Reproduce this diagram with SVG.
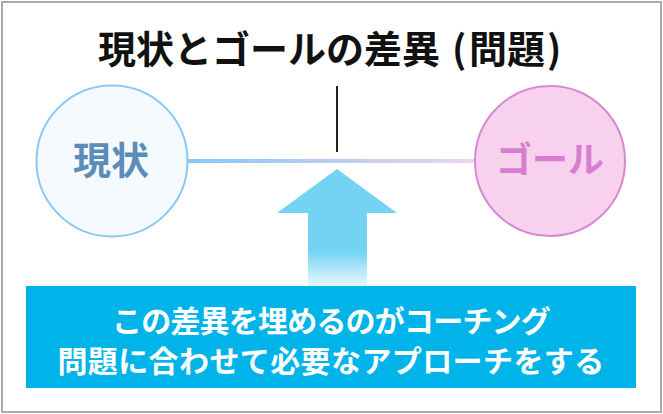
<svg xmlns="http://www.w3.org/2000/svg" width="663" height="414" viewBox="0 0 663 414">
<style>
.jp{font-family:"Noto Sans CJK JP","Noto Sans",sans-serif;font-weight:700}
</style>
<defs>
<linearGradient id="gl" x1="189" y1="0" x2="475" y2="0" gradientUnits="userSpaceOnUse">
<stop offset="0" stop-color="#86c9f4"/>
<stop offset="0.5" stop-color="#b8cdf0"/>
<stop offset="1" stop-color="#efd3ef"/>
</linearGradient>
<linearGradient id="ga" x1="0" y1="169" x2="0" y2="286" gradientUnits="userSpaceOnUse">
<stop offset="0" stop-color="#74d3f3"/>
<stop offset="0.7" stop-color="#74d3f3"/>
<stop offset="1" stop-color="#e8f7fd"/>
</linearGradient>
</defs>
<rect x="2" y="2" width="659" height="410" fill="#fff" stroke="#aaaaaa" stroke-width="2"/>
<g id="title">
<text class="jp" y="63" font-size="38" fill="#111"><tspan x="98">現状とゴールの差異</tspan><tspan x="452">(</tspan><tspan x="469">問題</tspan><tspan x="547">)</tspan></text>
</g>
<g id="connectors">
<line x1="337" y1="86" x2="337" y2="152" stroke="#222" stroke-width="2"/>
<line x1="188" y1="161" x2="476" y2="161" stroke="url(#gl)" stroke-width="4"/>
<path d="M337 169 L397 213 L367 213 L367 286 L308 286 L308 213 L277 213 Z" fill="url(#ga)"/>
</g>
<g id="genjo">
<circle cx="112" cy="161" r="75.5" fill="#f4fafe" stroke="#88c9ef" stroke-width="2"/>
<text class="jp" x="111" y="174" font-size="38" fill="#5b8db8" text-anchor="middle">現状</text>
</g>
<g id="goal">
<circle cx="550" cy="161" r="75" fill="#f7d1ee" stroke="#d888d2" stroke-width="2"/>
<text class="jp" x="550" y="173" font-size="36" fill="#d97dd0" text-anchor="middle">ゴール</text>
</g>
<g id="box">
<rect x="26" y="286" width="610" height="102" fill="#00b4ea"/>
<text class="jp" x="331" y="332" font-size="30" letter-spacing="-0.8" fill="#fff" text-anchor="middle">この差異を埋めるのがコーチング</text>
<text class="jp" x="331" y="372" font-size="30" letter-spacing="0.4" fill="#fff" text-anchor="middle">問題に合わせて必要なアプローチをする</text>
</g>
</svg>
